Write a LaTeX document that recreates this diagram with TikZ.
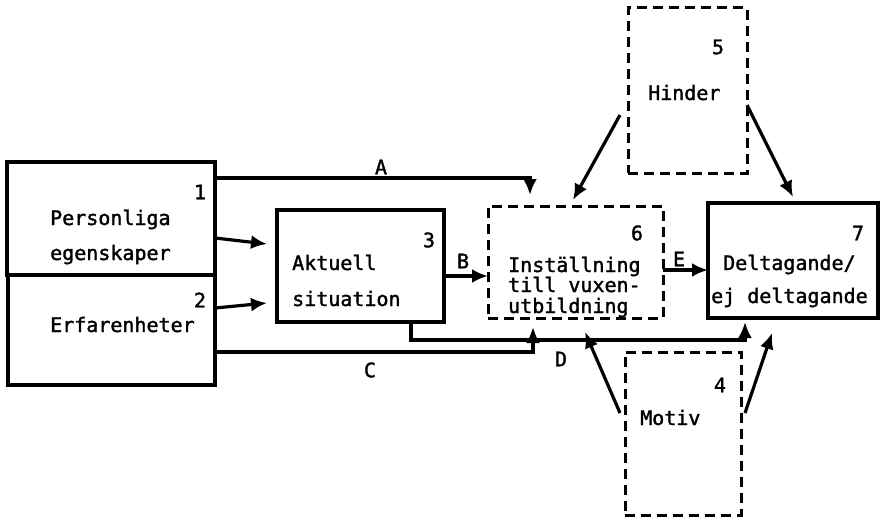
\documentclass[tikz,border=0pt]{standalone}
\usepackage{fontspec}
\setmonofont[BoldFont={DejaVu Sans Mono},BoldFeatures={FakeBold=1.6}]{DejaVu Sans Mono}
\usetikzlibrary{arrows.meta}
\begin{document}
\begin{tikzpicture}[x=1pt,y=-1pt,
  solidbox/.style={draw,line width=3.2pt,minimum width=#1,outer sep=0pt,inner sep=0pt},
  dashbox/.style={draw,line width=3pt,dash pattern=on 10pt off 6pt,outer sep=0pt,inner sep=0pt},
  txt/.style={anchor=base west,inner sep=0pt,font=\ttfamily\bfseries\fontsize{20}{24}\selectfont},
  num/.style={anchor=center,inner sep=0pt,font=\ttfamily\bfseries\fontsize{20}{24}\selectfont},
  arr/.style={line width=3.2pt,-{Latex[length=16pt,width=14pt]}}]
\useasboundingbox (0,0) rectangle (883,519);
% boxes
\node[solidbox=208pt,minimum height=113pt] (b1) at (111,218.5) {};
\node[solidbox=207pt,minimum height=110pt] (b2) at (111.5,330) {};
\node[solidbox=167pt,minimum height=112pt] (b3) at (360.5,266) {};
\node[dashbox,minimum width=175pt,minimum height=112pt] (b6) at (575.5,262) {};
\node[solidbox=170pt,minimum height=115pt] (b7) at (793,260.5) {};
\node[dashbox,minimum width=119pt,minimum height=165pt] (b5) at (687.5,90.5) {};
\node[dashbox,minimum width=116pt,minimum height=163pt] (b4) at (683,433.5) {};
% texts
\node[txt] (t1a) at (50,225) {Personliga};
\node[txt] (t1b) at (50,260) {egenskaper};
\node[num] (n1) at (200,192) {1};
\node[txt] (t2) at (50,332) {Erfarenheter};
\node[num] (n2) at (200,300) {2};
\node[txt] (t3a) at (292,270) {Aktuell};
\node[txt] (t3b) at (292,306) {situation};
\node[num] (n3) at (429,240) {3};
\node[txt] (t6a) at (508,272) {Inställning};
\node[txt] (t6b) at (508,292) {till vuxen-};
\node[txt] (t6c) at (508,313) {utbildning};
\node[num] (n6) at (637,233) {6};
\node[txt] (t7a) at (723,270) {Deltagande/};
\node[txt] (t7b) at (711,303) {ej deltagande};
\node[num] (n7) at (858,233) {7};
\node[txt] (t5) at (648,100) {Hinder};
\node[num] (n5) at (718,47) {5};
\node[txt] (t4) at (640,425) {Motiv};
\node[num] (n4) at (720,385) {4};
% labels
\node[num] (lA) at (381,167) {A};
\node[num] (lB) at (463,261) {B};
\node[num] (lC) at (370,370) {C};
\node[num] (lD) at (561,359) {D};
\node[num] (lE) at (679,259) {E};
% connectors
\draw[arr] ([yshift=-16pt]b1.north east) -| ([xshift=42pt,yshift=11pt]b6.north west);
\draw[arr] ([yshift=-19.5pt]b1.east) -- ([xshift=-10pt,yshift=22pt]b3.west);
\draw[arr] ([yshift=22pt]b2.east) -- ([xshift=-10pt,yshift=-37pt]b3.west);
\draw[arr] ([yshift=-10pt]b3.east) -- ([yshift=-14pt]b6.west);
\draw[arr] ([yshift=-8pt]b6.east) -- ([yshift=-9.5pt]b7.west);
\draw[arr] ([yshift=-22pt]b2.east) -| ([xshift=45pt,yshift=-9pt]b6.south west);
\draw[arr] ([xshift=50.5pt]b3.south) -- ++(0,18) -| ([xshift=-48pt,yshift=-4pt]b7.south);
\draw[arr] ([xshift=-8pt,yshift=-24.5pt]b5.west) -- ([xshift=-2.5pt,yshift=6pt]b6.north);
\draw[arr] ([yshift=-14.5pt]b5.east) -- ([yshift=6pt]b7.north);
\draw[arr] ([xshift=-5pt,yshift=20.5pt]b4.west) -- ([xshift=9.5pt,yshift=-14pt]b6.south);
\draw[arr] ([xshift=4pt,yshift=20.5pt]b4.east) -- ([xshift=-21pt,yshift=-15pt]b7.south);
\end{tikzpicture}
\end{document}
